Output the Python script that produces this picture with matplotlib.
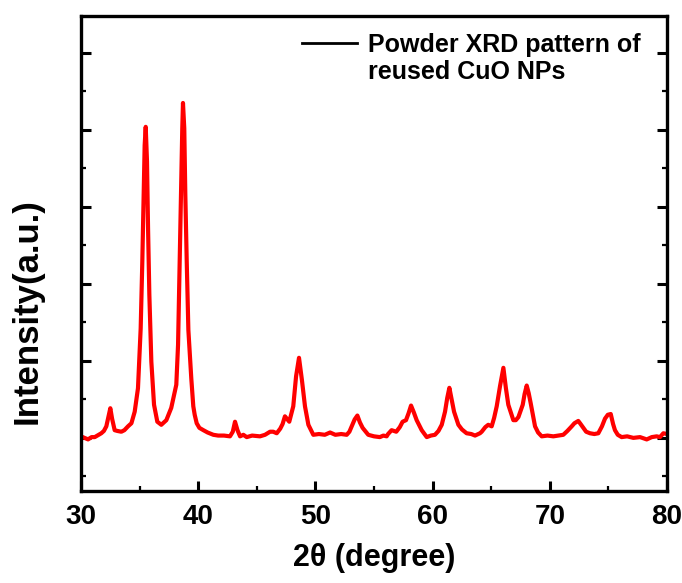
import matplotlib
matplotlib.use("Agg")
import matplotlib.pyplot as plt
from matplotlib.lines import Line2D
from matplotlib.ticker import MultipleLocator, NullFormatter

# 2-theta positions (degree)
two_theta = [
    30.00, 30.30, 30.60, 30.90, 31.17, 31.40, 31.73, 31.95, 32.16, 32.35,
    32.50, 32.65, 32.87, 33.10, 33.44, 33.70, 34.01, 34.30, 34.58, 34.86,
    35.09, 35.23, 35.35, 35.43, 35.52, 35.63, 35.72, 35.83, 36.00, 36.23,
    36.51, 36.85, 37.28, 37.70, 38.13, 38.28, 38.42, 38.56, 38.64, 38.70,
    38.81, 38.90, 39.02, 39.16, 39.41, 39.58, 39.70, 39.87, 40.10, 40.44,
    40.80, 41.29, 41.70, 42.20, 42.71, 42.95, 43.14, 43.35, 43.57, 43.85,
    44.14, 44.60, 45.27, 45.70, 46.13, 46.40, 46.70, 47.00, 47.20, 47.40,
    47.77, 48.11, 48.35, 48.60, 48.85, 49.11, 49.40, 49.82, 50.30, 50.80,
    51.25, 51.70, 52.20, 52.67, 52.90, 53.10, 53.35, 53.58, 53.80, 54.03,
    54.51, 55.00, 55.50, 55.80, 56.08, 56.20, 56.50, 56.90, 57.20, 57.44,
    57.73, 57.95, 58.16, 58.40, 58.64, 59.07, 59.50, 59.85, 60.20, 60.50,
    60.78, 61.06, 61.25, 61.43, 61.60, 61.83, 62.20, 62.50, 62.90, 63.30,
    63.62, 64.04, 64.19, 64.50, 64.75, 65.04, 65.25, 65.47, 65.75, 66.04,
    66.25, 66.46, 66.89, 67.10, 67.32, 67.69, 67.85, 68.03, 68.20, 68.37,
    68.74, 69.00, 69.31, 69.80, 70.30, 70.70, 71.15, 71.50, 71.87, 72.10,
    72.43, 72.58, 72.86, 73.10, 73.43, 73.80, 74.14, 74.45, 74.71, 74.95,
    75.20, 75.40, 75.56, 75.80, 76.13, 76.60, 77.13, 77.70, 78.27, 78.70,
    79.12, 79.40, 79.69, 80.00,
]

# Intensity (a.u.)
intensity = [
    2, 0, -2, 1, 1, 3, 6, 9, 15, 28,
    38.5, 25, 10, 9, 8, 10, 15, 19, 34, 64.5,
    142, 229, 316, 380, 404, 359, 272, 186, 99, 43,
    21, 17, 23, 39, 69, 121, 229, 337, 402, 435,
    402, 316, 229, 140, 77, 41, 30, 19, 13, 10,
    7, 4, 3, 3, 2, 8, 21, 10, 2, 4,
    1, 3, 2, 4, 8, 8, 6, 12, 18, 28,
    21, 41, 80, 104, 75, 41, 17, 4, 5, 4,
    7, 4, 5, 4, 8, 15, 24, 29, 20, 13,
    4, 2, 1, 3, 2, 5, 10, 8, 14, 21,
    23, 32, 42, 33, 23, 10, 1, 3, 4, 9,
    17, 34, 52, 65, 52, 34, 17, 11, 6, 5,
    3, 6, 8, 14, 17, 15, 26, 41, 67, 91,
    65, 43, 23, 23, 27, 43, 57, 68, 58, 45,
    15, 7, 2, 3, 2, 3, 4, 9, 15, 19,
    22, 19, 13, 8, 6, 5, 6, 15, 25, 30,
    31, 18, 10, 4, 1, 2, 0, 1, -2, 1,
    2, 1, 6, 5,
]

x_ticks = [30, 40, 50, 60, 70, 80]
legend_lines = ["Powder XRD pattern of", "reused CuO NPs"]
x_label = "2θ (degree)"
y_label = "Intensity(a.u.)"

plt.rcParams['font.family'] = ['Liberation Sans', 'DejaVu Sans']
plt.rcParams['font.weight'] = 'bold'

fig = plt.figure(figsize=(6.82, 5.83), dpi=100)
ax = fig.add_axes([0.1188, 0.1578, 0.8592, 0.8148])

ax.plot(two_theta, intensity, color='#ff0000', lw=3.0)

ax.set_xlim(30, 80)
ax.set_ylim(-69, 548)
ax.set_xticks(x_ticks)
ax.xaxis.set_minor_locator(MultipleLocator(5))
ax.yaxis.set_major_locator(MultipleLocator(100))
ax.yaxis.set_minor_locator(MultipleLocator(50))
ax.yaxis.set_major_formatter(NullFormatter())

ax.tick_params(axis='both', which='major', direction='in', length=7, width=2.2,
               labelsize=20, pad=9)
ax.tick_params(axis='both', which='minor', direction='in', length=3.5, width=1.6)
ax.tick_params(axis='y', which='both', right=True, left=True)
ax.tick_params(axis='x', which='both', top=False)
for lab in ax.get_xticklabels():
    lab.set_fontweight('bold')

for sp in ax.spines.values():
    sp.set_linewidth(2.4)

ax.set_xlabel(x_label, fontsize=22, fontweight='bold', labelpad=10)
ax.set_ylabel(y_label, fontsize=25, fontweight='bold')
ax.yaxis.set_label_coords(-0.063, 0.379)

handles = [Line2D([], [], color='black', lw=2.0),
           Line2D([], [], color='none', lw=0)]
leg = ax.legend(handles, legend_lines, loc='upper left',
                bbox_to_anchor=(0.36, 0.985), frameon=False,
                prop={'size': 18, 'weight': 'bold'},
                handlelength=2.2, handletextpad=0.45, borderaxespad=0.0,
                labelspacing=0.1)

fig.savefig("out.png", dpi=100)
